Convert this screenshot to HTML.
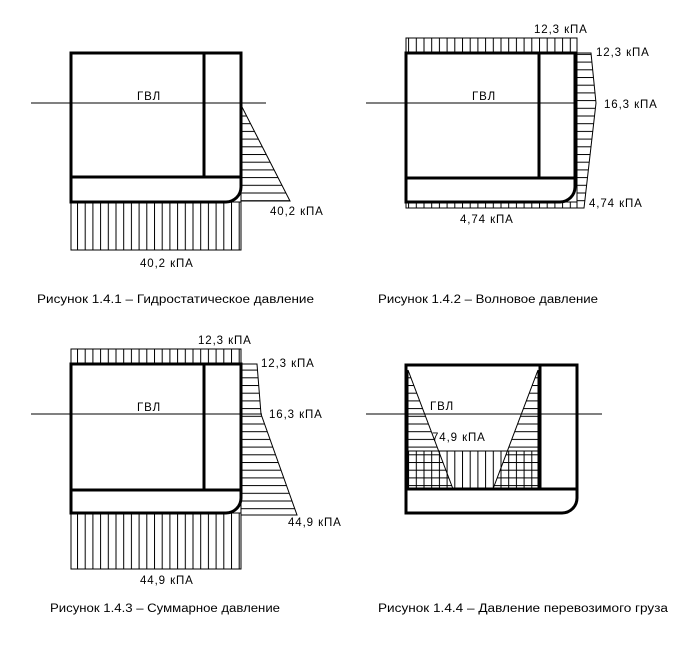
<!DOCTYPE html>
<html><head><meta charset="utf-8"><style>
html,body{margin:0;padding:0;background:#fff}
svg text{font-family:"Liberation Sans",sans-serif;font-size:11.5px;fill:#000}
.l text{letter-spacing:0.9px}
</style></head><body>
<svg width="678" height="642" viewBox="0 0 678 642" xmlns="http://www.w3.org/2000/svg">
<defs>
<pattern id="h" width="8" height="7.7" patternUnits="userSpaceOnUse"><line x1="0" y1="0.5" x2="8" y2="0.5" stroke="#000" stroke-width="1"/></pattern>
<pattern id="v" width="7.7" height="8" patternUnits="userSpaceOnUse"><line x1="0.5" y1="0" x2="0.5" y2="8" stroke="#000" stroke-width="1"/></pattern>
</defs>
<g fill="none" stroke="#000">
<rect x="71" y="202" width="170" height="48" fill="url(#v)" stroke-width="1"/>
<polygon points="241,105 290,201 241,201" fill="url(#h)" stroke-width="1"/>
<line x1="31" y1="103" x2="266" y2="103" stroke-width="1"/>
<path d="M71,53 H241 V187 A15,15 0 0 1 226,202 H71 Z" stroke-width="3" fill="none"/>
<line x1="71" y1="177" x2="241" y2="177" stroke-width="3"/>
<line x1="204" y1="53" x2="204" y2="177" stroke-width="3"/>
<rect x="406" y="38" width="171" height="15" fill="url(#v)" stroke-width="1"/>
<rect x="406" y="202" width="171" height="6" fill="url(#v)" stroke-width="1"/>
<polygon points="577,53 591,53 596,103 584,208 577,208" fill="url(#h)" stroke-width="1"/>
<line x1="366" y1="103" x2="577" y2="103" stroke-width="1"/>
<path d="M406,53 H575 V187 A15,15 0 0 1 560,202 H406 Z" stroke-width="3" fill="#fff"/>
<line x1="406" y1="103" x2="575" y2="103" stroke-width="1"/>
<line x1="406" y1="178" x2="575" y2="178" stroke-width="3"/>
<line x1="539" y1="53" x2="539" y2="178" stroke-width="3"/>
<rect x="71" y="349" width="170" height="15" fill="url(#v)" stroke-width="1"/>
<rect x="71" y="513" width="170" height="56" fill="url(#v)" stroke-width="1"/>
<polygon points="241,364 257,364 261,414 297,515 241,515" fill="url(#h)" stroke-width="1"/>
<line x1="31" y1="414" x2="262" y2="414" stroke-width="1"/>
<path d="M71,364 H241 V498 A15,15 0 0 1 226,513 H71 Z" stroke-width="3" fill="#fff"/>
<line x1="71" y1="414" x2="241" y2="414" stroke-width="1"/>
<line x1="71" y1="490" x2="241" y2="490" stroke-width="3"/>
<line x1="204" y1="364" x2="204" y2="490" stroke-width="3"/>
<polygon points="408,370 453,489 408,489" fill="url(#h)" stroke-width="1"/>
<polygon points="538,370 493,489 538,489" fill="url(#h)" stroke-width="1"/>
<rect x="408" y="451" width="130" height="38" fill="url(#v)" stroke="none"/>
<line x1="408" y1="451" x2="538" y2="451" stroke-width="1"/>
<line x1="366" y1="414" x2="602" y2="414" stroke-width="1"/>
<path d="M406,365 H577 V498 A15,15 0 0 1 562,513 H406 Z" stroke-width="3"/>
<line x1="406" y1="489" x2="577" y2="489" stroke-width="3"/>
<line x1="540" y1="365" x2="540" y2="489" stroke-width="3"/>
</g>
<g class="l">
<text x="137" y="100">ГВЛ</text>
<text x="270" y="215">40,2 кПА</text>
<text x="140" y="267">40,2 кПА</text>
<text x="472" y="100">ГВЛ</text>
<text x="534" y="33">12,3 кПА</text>
<text x="596" y="56">12,3 кПА</text>
<text x="604" y="108">16,3 кПА</text>
<text x="589" y="207">4,74 кПА</text>
<text x="460" y="223">4,74 кПА</text>
<text x="137" y="411">ГВЛ</text>
<text x="198" y="344">12,3 кПА</text>
<text x="261" y="367">12,3 кПА</text>
<text x="269" y="418">16,3 кПА</text>
<text x="288" y="526">44,9 кПА</text>
<text x="140" y="584">44,9 кПА</text>
<text x="430" y="410">ГВЛ</text>
<text x="432" y="441">74,9 кПА</text>
</g>
<g>
<text x="37" y="303" textLength="277" lengthAdjust="spacingAndGlyphs">Рисунок 1.4.1 – Гидростатическое давление</text>
<text x="378" y="303" textLength="220" lengthAdjust="spacingAndGlyphs">Рисунок 1.4.2 – Волновое давление</text>
<text x="50" y="612" textLength="230" lengthAdjust="spacingAndGlyphs">Рисунок 1.4.3 – Суммарное давление</text>
<text x="378" y="612" textLength="290" lengthAdjust="spacingAndGlyphs">Рисунок 1.4.4 – Давление перевозимого груза</text>
</g>
</svg>
</body></html>
